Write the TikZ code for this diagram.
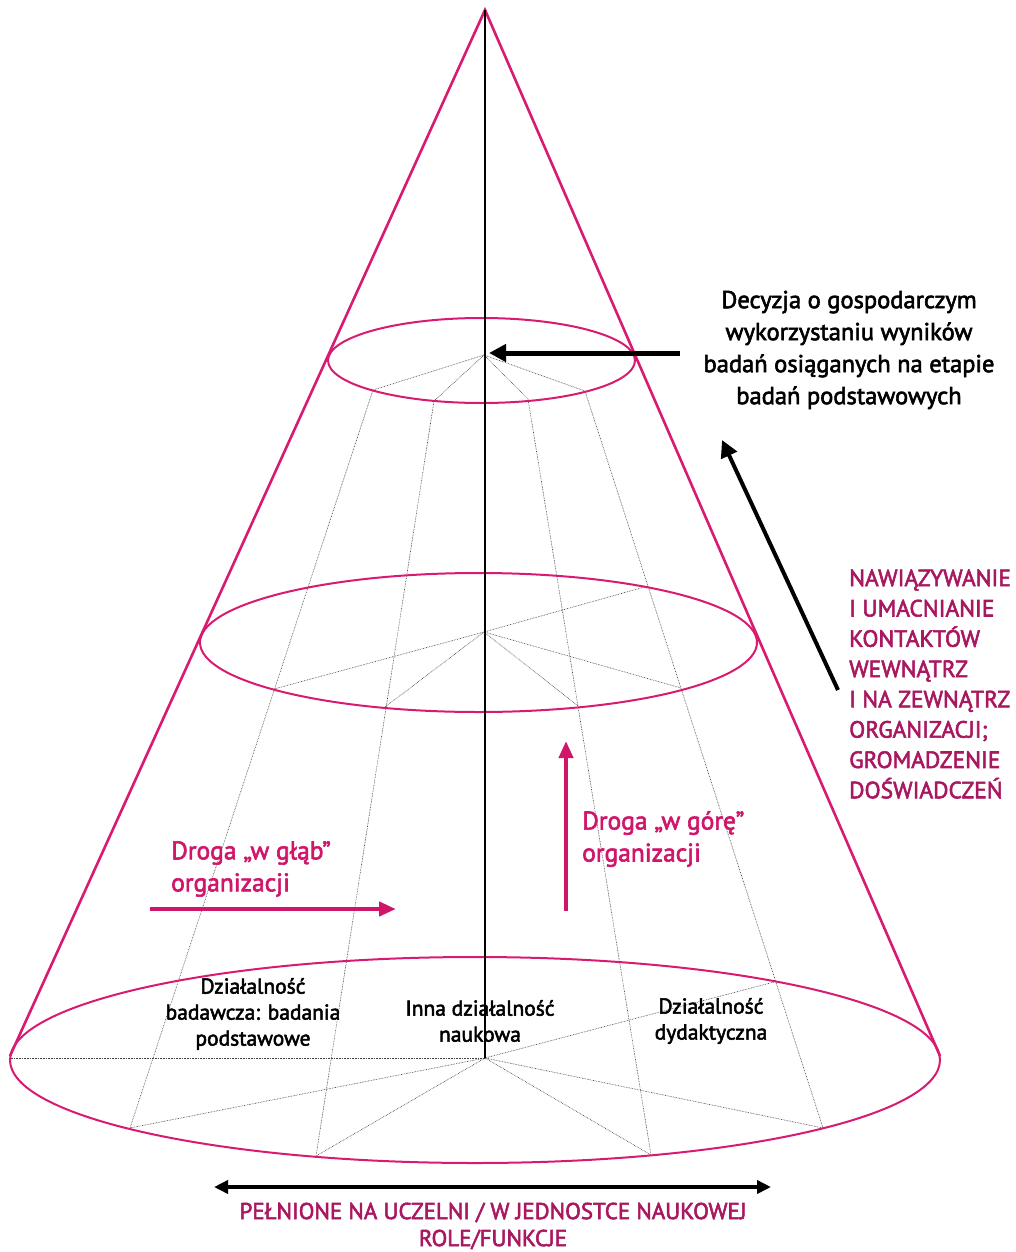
\documentclass[tikz,border=0pt]{standalone}
\usepackage{fontspec}
\setmainfont{PT Sans}
\newfontfamily\labelfont{PT Sans}[FakeBold=2.4]
\usetikzlibrary{arrows.meta}
\definecolor{conepink}{HTML}{D81B70}
\definecolor{roadpink}{HTML}{D0166A}
\definecolor{capspink}{HTML}{A8175F}
\begin{document}
\begin{tikzpicture}[x=1pt,y=-1pt,
  grid/.style={draw=black!75, line width=0.6pt, dash pattern=on 0.7pt off 0.9pt},
  rim/.style={draw=conepink, line width=2pt},
  side/.style={draw=conepink, line width=2.6pt},
  axisline/.style={draw=black, line width=1.1pt},
  blackarrow/.style={draw=black, line width=5pt, -{Triangle[length=17pt,width=17pt]}},
  pinkarrow/.style={draw=roadpink, line width=4.5pt, -{Triangle[length=17pt,width=14pt]}},
  twoway/.style={draw=black, line width=3.5pt, {Triangle[length=14pt,width=13pt]}-{Triangle[length=14pt,width=13pt]}},
  blacktxt/.style={text=black, align=center, inner sep=0pt, font=\labelfont\fontsize{24.5}{32}\selectfont},
  segtxt/.style={text=black, align=center, inner sep=0pt, font=\labelfont\fontsize{21.5}{26}\selectfont},
  roadtxt/.style={text=roadpink, align=left, inner sep=0pt, font=\labelfont\fontsize{25.5}{32}\selectfont},
  capstxt/.style={text=capspink, align=left, inner sep=0pt, font=\labelfont\fontsize{23.5}{30.3}\selectfont},
]
\useasboundingbox (0,0) rectangle (1015,1252);

% key points of the cone
\coordinate (apex) at (485,10);
\coordinate (hubT) at (484,355);
\coordinate (hubM) at (484,632);
\coordinate (hubB) at (485,1058);
\coordinate (sideL) at (10,1056);
\coordinate (sideR) at (940,1056);

% meridians: top rim -> bottom rim
\coordinate (m1t) at (373,390); \coordinate (m1b) at (130,1128);
\coordinate (m2t) at (434,401); \coordinate (m2b) at (316,1156);
\coordinate (m3t) at (528,399); \coordinate (m3b) at (651,1155);
\coordinate (m4t) at (585,391); \coordinate (m4b) at (823,1128);

% crossings on the middle rim
\coordinate (c1m) at (274,689);
\coordinate (c2m) at (385,707);
\coordinate (c3m) at (578,706);
\coordinate (c4m) at (681,688);
\coordinate (c4mback) at (648,586);

% extra points on the bottom rim
\coordinate (bleft) at (10,1058);
\coordinate (c4bback) at (774,982);

% dotted framework
\draw[grid] (m1t) -- (m1b);
\draw[grid] (m2t) -- (m2b);
\draw[grid] (m3t) -- (m3b);
\draw[grid] (m4t) -- (m4b);
\foreach \p in {m1t,m2t,m3t,m4t} \draw[grid] (hubT) -- (\p);
\foreach \p in {c1m,c2m,c3m,c4m,c4mback} \draw[grid] (hubM) -- (\p);
\foreach \p in {bleft,m1b,m2b,m3b,m4b,c4bback} \draw[grid] (hubB) -- (\p);

% rims
\draw[rim] (481.5,360.5) ellipse [x radius=153.5pt, y radius=42.5pt];
\draw[rim] (478.5,642.5) ellipse [x radius=278.5pt, y radius=69.5pt];
\draw[rim] (475,1060) ellipse [x radius=465pt, y radius=103pt];

% cone sides and axis
\draw[side, line join=miter] (sideL) -- (apex) -- (sideR);
\draw[axisline] (apex) -- (hubB);

% arrows
\coordinate (decyzjaTail) at (680,353);
\coordinate (decyzjaTip) at (489,353);
\draw[blackarrow] (decyzjaTail) -- (decyzjaTip);
\coordinate (kontaktTail) at (838,690);
\coordinate (kontaktTip) at (722,440);
\draw[blackarrow, line width=4pt] (kontaktTail) -- (kontaktTip);
\coordinate (glabTail) at (150,909);
\coordinate (glabTip) at (396,909);
\draw[pinkarrow] (glabTail) -- (glabTip);
\coordinate (goraTail) at (566,911);
\coordinate (goraTip) at (566,741);
\draw[pinkarrow, line width=4pt] (goraTail) -- (goraTip);
\coordinate (roleL) at (214,1187);
\coordinate (roleR) at (771,1187);
\draw[twoway] (roleL) -- (roleR);

% labels
\node[blacktxt] (decyzja) at (849,350) {Decyzja o gospodarczym\\wykorzystaniu wyników\\badań osiąganych na etapie\\badań podstawowych};
\node[capstxt, anchor=west] (kontakty) at (849,684) {NAWIĄZYWANIE\\I UMACNIANIE\\KONTAKTÓW\\WEWNĄTRZ\\I NA ZEWNĄTRZ\\ORGANIZACJI;\\GROMADZENIE\\DOŚWIADCZEŃ};
\node[roadtxt, anchor=west] (glab) at (171,869) {Droga „w głąb”\\organizacji};
\node[roadtxt, anchor=west] (gora) at (582,839) {Droga „w górę”\\organizacji};
\node[segtxt] (badawcza) at (253,1014) {Działalność\\badawcza: badania\\podstawowe};
\node[segtxt] (inna) at (480,1021) {Inna działalność\\naukowa};
\node[segtxt] (dydaktyka) at (711,1021) {Działalność\\dydaktyczna};
\node[capstxt, align=center, font=\labelfont\fontsize{23}{27}\selectfont] (role) at (493,1226) {PEŁNIONE NA UCZELNI / W JEDNOSTCE NAUKOWEJ\\ROLE/FUNKCJE};
\end{tikzpicture}
\end{document}
